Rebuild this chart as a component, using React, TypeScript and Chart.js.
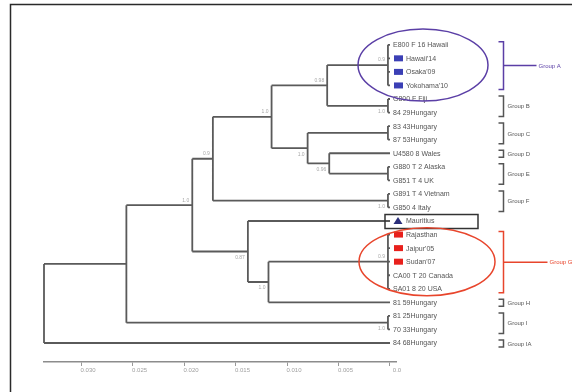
import React, { useEffect, useRef } from "react";
import { Chart, registerables } from "chart.js";
Chart.register(...registerables);

// ---- Data ----
const leafLabels = [
  "E800 F 16 Hawaii", "Hawaii'14", "Osaka'09", "Yokohama'10",
  "G800 F Fiji", "84 29Hungary", "83 43Hungary", "87 53Hungary",
  "U4580 8 Wales", "G880 T 2 Alaska", "G851 T 4 UK", "G891 T 4 Vietnam",
  "G850 4 Italy", "Mauritius", "Rajasthan", "Jaipur'05", "Sudan'07",
  "CA00 T 20 Canada", "SA01 8 20 USA", "81 59Hungary", "81 25Hungary",
  "70 33Hungary", "84 68Hungary",
];
const leafMarkers = [
  "", "blue", "blue", "blue", "", "", "", "", "", "", "", "", "",
  "triangle", "red", "red", "red", "", "", "", "", "", "",
];

const nodeIds = ["root", "n126", "n192", "n213", "n272", "n327", "n308", "n329", "n248", "n268", "cA", "cB", "cC", "cE", "cF", "cR", "cI"];
const nodeDepths = [0.0336, 0.0256, 0.0192, 0.0172, 0.0115, 0.0061, 0.0080, 0.0059, 0.0138, 0.0118, 0.0002, 0.0002, 0.0002, 0.0002, 0.0002, 0.0002, 0.0002];
const nodeChildren = [
  ["n126", "L22"], ["n192", "cI"], ["n213", "n248"], ["n272", "cF"], ["n327", "n308"],
  ["cA", "cB"], ["cC", "n329"], ["L8", "cE"], ["L13", "n268"], ["cR", "L19"],
  ["L0", "L1", "L2", "L3"], ["L4", "L5"], ["L6", "L7"], ["L9", "L10"], ["L11", "L12"],
  ["L14", "L15", "L16", "L17", "L18"], ["L20", "L21"],
];
const supportValues = ["", "", "1.0", "0.9", "1.0", "0.98", "1.0", "0.96", "0.87", "1.0", "0.9", "1.0", "", "", "1.0", "0.9", "1.0"];
const supportSide = ["", "", "a", "a", "a", "a", "b", "b", "b", "b", "a", "b", "", "", "b", "a", "b"];

const groupNames = ["Group A", "Group B", "Group C", "Group D", "Group E", "Group F", "Group G", "Group H", "Group I", "Group IA"];
const groupFirst = [0, 4, 6, 8, 9, 11, 14, 19, 20, 22];
const groupLast = [3, 5, 7, 8, 10, 12, 18, 19, 21, 22];
const groupColors = ["#5b3fa6", "#555", "#555", "#555", "#555", "#555", "#e8452c", "#555", "#555", "#555"];

const axisTicks = [0.03, 0.025, 0.02, 0.015, 0.01, 0.005, 0];
const axisLabels = ["0.030", "0.025", "0.020", "0.015", "0.010", "0.005", "0.0"];

const FONT = "'Liberation Sans', Arial, sans-serif";

function buildTree() {
  const depth: Record<string, number> = {};
  const yOf: Record<string, number> = {};
  leafLabels.forEach((_, i) => { depth["L" + i] = 0; yOf["L" + i] = i; });
  nodeIds.forEach((id, i) => { depth[id] = nodeDepths[i]; });
  const childMap: Record<string, string[]> = {};
  nodeIds.forEach((id, i) => { childMap[id] = nodeChildren[i]; });
  const getY = (id: string): number => {
    if (yOf[id] !== undefined) return yOf[id];
    const cs = childMap[id].map(getY);
    yOf[id] = cs.reduce((a, b) => a + b, 0) / cs.length;
    return yOf[id];
  };
  nodeIds.forEach(getY);
  const pts: { x: number; y: number }[] = [];
  nodeIds.forEach((id) => {
    const cs = childMap[id];
    const ys = cs.map((c) => yOf[c]);
    pts.push({ x: depth[id], y: Math.min(...ys) }, { x: depth[id], y: Math.max(...ys) }, { x: NaN, y: NaN });
    cs.forEach((c) => {
      pts.push({ x: depth[id], y: yOf[c] }, { x: depth[c], y: yOf[c] }, { x: NaN, y: NaN });
    });
  });
  return { pts, yOf, depth };
}

const overlay = {
  id: "overlay",
  beforeDraw(chart: any) {
    const ctx = chart.ctx;
    ctx.save();
    ctx.fillStyle = "#ffffff";
    ctx.fillRect(0, 0, chart.width, chart.height);
    ctx.restore();
  },
  afterDraw(chart: any) {
    const ctx = chart.ctx as CanvasRenderingContext2D;
    const xs = chart.scales.x;
    const ys = chart.scales.y;
    const tree = (chart as any).$tree;
    ctx.save();
    // frame
    ctx.strokeStyle = "#2a2a2a";
    ctx.lineWidth = 1.5;
    ctx.beginPath();
    ctx.moveTo(10.5, 392);
    ctx.lineTo(10.5, 4.5);
    ctx.lineTo(572, 4.5);
    ctx.stroke();

    const tipX = xs.getPixelForValue(0);
    // leaf labels
    ctx.font = `7px ${FONT}`;
    ctx.textBaseline = "middle";
    ctx.textAlign = "left";
    leafLabels.forEach((lab, i) => {
      const py = ys.getPixelForValue(i);
      const m = leafMarkers[i];
      let tx = tipX + 3;
      if (m === "blue" || m === "red") {
        ctx.fillStyle = m === "blue" ? "#3b3fb5" : "#e8201c";
        ctx.fillRect(tipX + 4, py - 3, 9, 6);
        tx = tipX + 16;
      } else if (m === "triangle") {
        ctx.fillStyle = "#2b2f7a";
        ctx.beginPath();
        ctx.moveTo(tipX + 8, py - 4);
        ctx.lineTo(tipX + 12.5, py + 3);
        ctx.lineTo(tipX + 3.5, py + 3);
        ctx.closePath();
        ctx.fill();
        tx = tipX + 16;
      }
      ctx.fillStyle = "#555";
      ctx.fillText(lab, tx, py + 0.5);
    });

    // support values
    ctx.font = `5px ${FONT}`;
    ctx.fillStyle = "#a8a8a8";
    ctx.textAlign = "right";
    nodeIds.forEach((id, i) => {
      if (!supportValues[i]) return;
      const px = xs.getPixelForValue(nodeDepths[i]);
      const py = ys.getPixelForValue(tree.yOf[id]);
      ctx.fillText(supportValues[i], px - 3, supportSide[i] === "a" ? py - 5 : py + 6);
    });

    // box around triangle leaf
    const bi = leafMarkers.indexOf("triangle");
    const by = ys.getPixelForValue(bi);
    ctx.strokeStyle = "#333";
    ctx.lineWidth = 1.5;
    ctx.strokeRect(tipX - 5, by - 6.5, 93, 14);

    // ellipses
    const ellipse = (first: number, last: number, cx: number, rx: number, ry: number, col: string) => {
      const cy = (ys.getPixelForValue(first) + ys.getPixelForValue(last)) / 2;
      ctx.strokeStyle = col;
      ctx.lineWidth = 1.5;
      ctx.beginPath();
      ctx.ellipse(cx, cy, rx, ry, 0, 0, Math.PI * 2);
      ctx.stroke();
    };
    ellipse(groupFirst[0], groupLast[0], tipX + 33, 65, 36, groupColors[0]);
    ellipse(groupFirst[6], groupLast[6], tipX + 37, 68, 34, groupColors[6]);

    // group brackets
    const bx = 503.5;
    ctx.font = `6px ${FONT}`;
    ctx.textAlign = "left";
    groupNames.forEach((g, i) => {
      const top = ys.getPixelForValue(groupFirst[i]) - 3;
      const bot = ys.getPixelForValue(groupLast[i]) + 4;
      const mid = (top + bot) / 2;
      const col = groupColors[i];
      ctx.strokeStyle = col;
      ctx.fillStyle = col;
      ctx.lineWidth = 1.5;
      ctx.beginPath();
      ctx.moveTo(bx - 5, top);
      ctx.lineTo(bx, top);
      ctx.lineTo(bx, bot);
      ctx.lineTo(bx - 5, bot);
      ctx.stroke();
      let tx = bx + 4;
      if (i === 0 || i === 6) {
        const end = i === 0 ? bx + 33 : bx + 44;
        ctx.beginPath();
        ctx.moveTo(bx, mid);
        ctx.lineTo(end, mid);
        ctx.stroke();
        tx = end + 2;
      }
      ctx.fillText(g, tx, mid + 0.5);
    });
    ctx.restore();
  },
};

export default function App() {
  const ref = useRef<HTMLCanvasElement>(null);
  useEffect(() => {
    const tree = buildTree();
    const chart = new Chart(ref.current as HTMLCanvasElement, {
      type: "scatter",
      data: {
        datasets: [
          {
            data: tree.pts,
            showLine: true,
            spanGaps: false,
            borderColor: "#5a5a5a",
            borderWidth: 1.8,
            pointRadius: 0,
            pointHoverRadius: 0,
            clip: false as any,
          } as any,
        ],
      },
      options: {
        animation: false,
        responsive: false,
        events: [],
        layout: { padding: { left: 44, right: 176, top: 38, bottom: 0 } },
        plugins: { legend: { display: false }, tooltip: { enabled: false } },
        scales: {
          x: {
            type: "linear",
            reverse: true,
            min: -0.000583,
            max: 0.0336,
            afterBuildTicks: (s: any) => {
              s.ticks = axisTicks.map((v) => ({ value: v }));
            },
            afterFit: (s: any) => {
              s.height = 30;
            },
            ticks: {
              autoSkip: false,
              maxRotation: 0,
              minRotation: 0,
              padding: 1,
              labelOffset: 7,
              color: "#a0a0a0",
              font: { size: 6, family: FONT },
              callback: (_v: any, i: number) => axisLabels[i],
            },
            grid: { drawOnChartArea: false, tickLength: 4, color: "#999", lineWidth: 1 },
            border: { color: "#8c8c8c", width: 1.5 },
          },
          y: { type: "linear", reverse: true, min: -0.5, max: 23.4, display: false },
        },
      },
      plugins: [
        {
          id: "treeRef",
          beforeInit(c: any) {
            c.$tree = tree;
          },
        },
        overlay as any,
      ],
    });
    return () => chart.destroy();
  }, []);
  return (
    <div style={{ position: "absolute", left: 0, top: 0, width: 572, height: 392 }}>
      <canvas ref={ref} width={572} height={392} style={{ display: "block" }} />
    </div>
  );
}
